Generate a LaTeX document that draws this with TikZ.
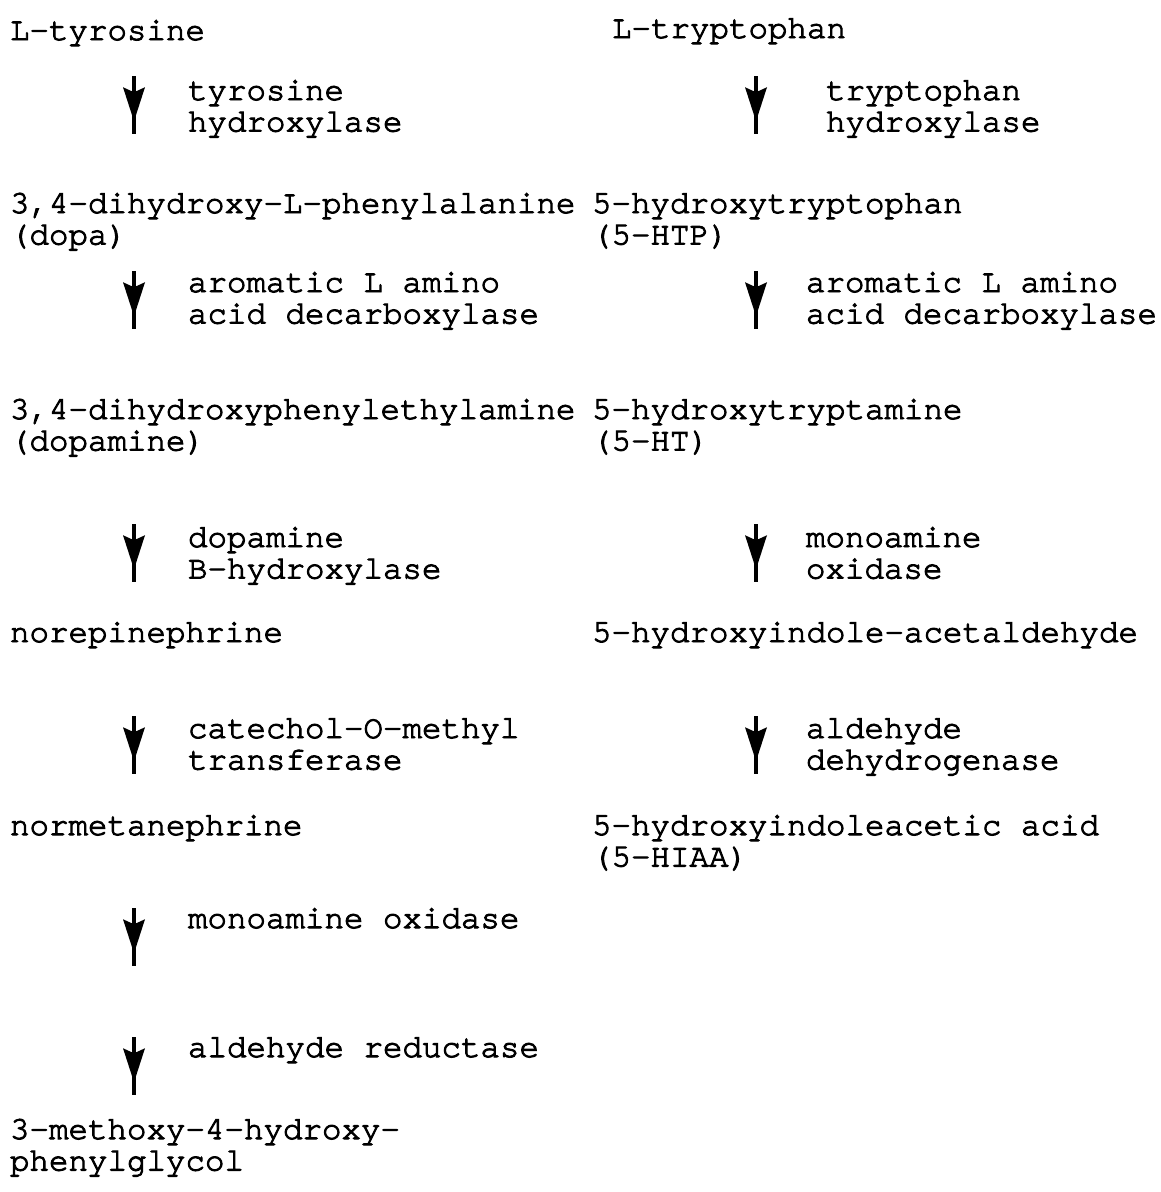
\documentclass[tikz,border=0pt]{standalone}
\usepackage{fontspec}
\newfontfamily\twfont[FakeBold=3]{TeX Gyre Cursor}
\usetikzlibrary{decorations.markings}
\newcommand\twoline[2]{\begin{tabular}[t]{@{}l@{}}#1\\#2\end{tabular}}
\tikzset{
  txt/.style={anchor=base west, inner sep=0pt, outer sep=0pt,
    font=\twfont\fontsize{32.5}{31.5}\selectfont},
  arr/.style={line width=3.4pt, postaction={decorate},
    decoration={markings, mark=at position 0.78 with {\fill (-34pt,11pt) -- (0,0) -- (-34pt,-11pt) -- (-29pt,0) -- cycle;}}}
}
\begin{document}
\begin{tikzpicture}[x=1pt,y=-1pt]
\useasboundingbox[fill=white] (0,0) rectangle (1160,1192);
% left column
\node[txt] (tyr) at (10,40) {L-tyrosine};
\node[txt] (e1) at (188,100) {\twoline{tyrosine}{hydroxylase}};
\node[txt] (dopa) at (10,213) {\twoline{3,4-dihydroxy-L-phenylalanine}{(dopa)}};
\node[txt] (e2) at (188,292) {\twoline{aromatic L amino}{acid decarboxylase}};
\node[txt] (dopamine) at (10,419) {\twoline{3,4-dihydroxyphenylethylamine}{(dopamine)}};
\node[txt] (e3) at (188,547) {\twoline{dopamine}{B-hydroxylase}};
\node[txt] (ne) at (10,642) {norepinephrine};
\node[txt] (e4) at (188,738) {\twoline{catechol-O-methyl}{transferase}};
\node[txt] (nmn) at (10,835) {normetanephrine};
\node[txt] (e5) at (188,928) {monoamine oxidase};
\node[txt] (e6) at (188,1057) {aldehyde reductase};
\node[txt] (mhpg) at (10,1139) {\twoline{3-methoxy-4-hydroxy-}{phenylglycol}};
% right column
\node[txt] (trp) at (612,38) {L-tryptophan};
\node[txt] (f1) at (826,100) {\twoline{tryptophan}{hydroxylase}};
\node[txt] (htp) at (592,213) {\twoline{5-hydroxytryptophan}{(5-HTP)}};
\node[txt] (f2) at (806,292) {\twoline{aromatic L amino}{acid decarboxylase}};
\node[txt] (ht) at (592,419) {\twoline{5-hydroxytryptamine}{(5-HT)}};
\node[txt] (f3) at (806,547) {\twoline{monoamine}{oxidase}};
\node[txt] (hial) at (592,642) {5-hydroxyindole-acetaldehyde};
\node[txt] (f4) at (806,738) {\twoline{aldehyde}{dehydrogenase}};
\node[txt] (hiaa) at (592,835) {\twoline{5-hydroxyindoleacetic acid}{(5-HIAA)}};
% arrow coordinates
\foreach \n/\t in {1/76,2/271,3/524,4/716,5/908,6/1037}{
  \coordinate (la\n s) at (134,\t);
  \coordinate (la\n e) at (134,\t+58);
}
\foreach \n/\t in {1/76,2/271,3/524,4/716}{
  \coordinate (ra\n s) at (756,\t);
  \coordinate (ra\n e) at (756,\t+58);
}
\foreach \n in {1,...,6}{\draw[arr] (la\n s) -- (la\n e);}
\foreach \n in {1,...,4}{\draw[arr] (ra\n s) -- (ra\n e);}
\end{tikzpicture}
\end{document}
